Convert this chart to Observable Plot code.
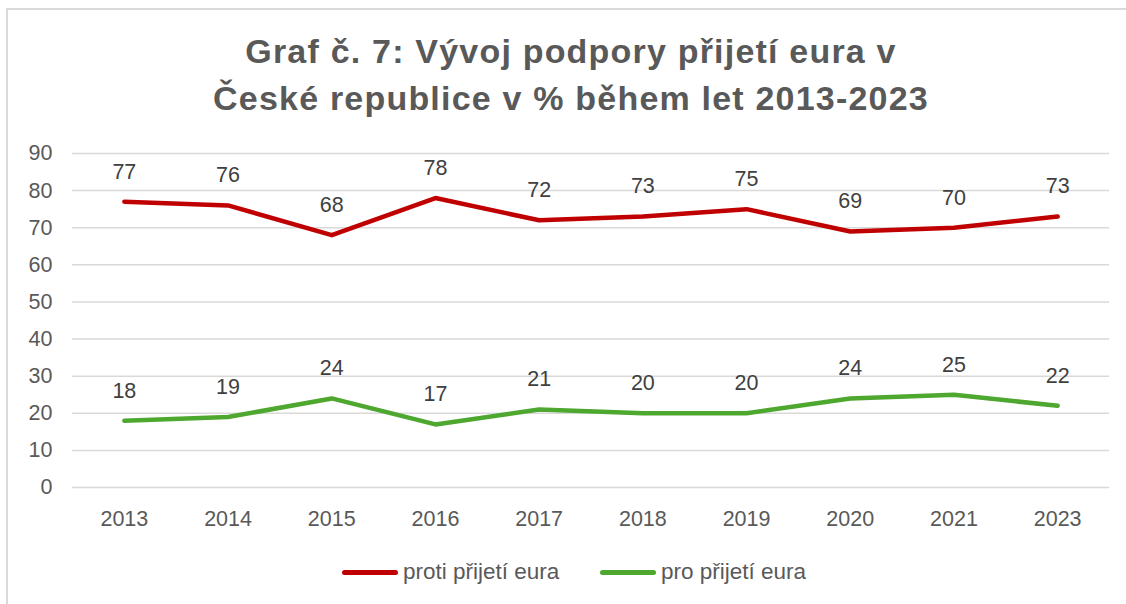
<!DOCTYPE html>
<html>
<head>
<meta charset="utf-8">
<script src="https://cdn.jsdelivr.net/npm/d3@7"></script>
<script src="https://cdn.jsdelivr.net/npm/@observablehq/plot@0.6"></script>
<style>
  html, body { margin: 0; padding: 0; background: #fff; width: 1126px; height: 604px; overflow: hidden; }
  body { position: relative; font-family: "Liberation Sans", Arial, sans-serif; }
  #frame { position: absolute; left: 6px; top: 8px; width: 1130px; height: 610px; border-left: 2px solid #d9d9d9; border-top: 2px solid #d9d9d9; box-sizing: border-box; }
  #title { position: absolute; left: 8px; top: 28px; width: 1126px; text-align: center; font-weight: bold; font-size: 34px; line-height: 47px; color: #595959; letter-spacing: 1.2px; }
  #chart { position: absolute; left: 0; top: 130px; }
  #legend { position: absolute; top: 558px; left: 0; width: 1126px; height: 28px; font-size: 22.5px; color: #595959; }
  .item { position: absolute; top: 0; display: flex; align-items: center; height: 28px; }
  .swatch { width: 56px; height: 5px; border-radius: 3px; margin-right: 5px; }
</style>
</head>
<body>
<div id="frame"></div>
<div id="title">Graf č. 7: Vývoj podpory přijetí eura v<br>České republice v % během let 2013-2023</div>
<div id="chart"></div>
<div id="legend">
  <div class="item" style="left:342px"><div class="swatch" style="background:#C00000"></div><span>proti přijetí eura</span></div>
  <div class="item" style="left:600px"><div class="swatch" style="background:#4EA72E"></div><span>pro přijetí eura</span></div>
</div>
<script>
const years = ["2013","2014","2015","2016","2017","2018","2019","2020","2021","2023"];
const protiValues = [77,76,68,78,72,73,75,69,70,73];
const proValues = [18,19,24,17,21,20,20,24,25,22];
const yTicks = [0,10,20,30,40,50,60,70,80,90];
const seriesNames = ["proti přijetí eura", "pro přijetí eura"];
const seriesColors = ["#C00000", "#4EA72E"];

const table = [];
years.forEach((yr, i) => {
  table.push({year: yr, value: protiValues[i], series: seriesNames[0]});
  table.push({year: yr, value: proValues[i], series: seriesNames[1]});
});

const chart = Plot.plot({
  width: 1126,
  height: 410,
  marginLeft: 72,
  marginRight: 17,
  marginTop: 23,
  marginBottom: 53,
  style: {fontFamily: '"Liberation Sans", Arial, sans-serif', background: "transparent", color: "#595959"},
  x: {type: "point", domain: years, padding: 0.5, align: 0.5, round: false},
  y: {domain: [0, 90], ticks: yTicks},
  color: {domain: seriesNames, range: seriesColors},
  marks: [
    Plot.gridY(yTicks, {stroke: "#d9d9d9", strokeOpacity: 1, strokeWidth: 1.5}),
    Plot.axisY(yTicks, {tickSize: 0, tickPadding: 20, fontSize: 21.5, fill: "#595959", label: null}),
    Plot.axisX({tickSize: 0, tickPadding: 23, fontSize: 21.5, fill: "#595959", label: null}),
    Plot.line(table, {x: "year", y: "value", z: "series", stroke: "series", strokeWidth: 4.5, strokeLinecap: "round", strokeLinejoin: "round"}),
    Plot.text(table, {x: "year", y: "value", text: d => String(d.value), dy: -30, fontSize: 21.5, fill: "#404040"})
  ]
});
document.getElementById("chart").appendChild(chart);
</script>
</body>
</html>
